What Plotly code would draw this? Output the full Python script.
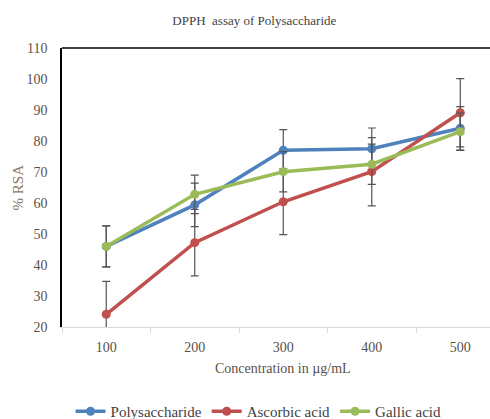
import plotly.graph_objects as go

# Concentrations (µg/mL) and % radical scavenging activity
concentrations = ["100", "200", "300", "400", "500"]

polysaccharide = [46.0, 59.4, 77.0, 77.5, 84.1]
polysaccharide_err = [6.6, 7.0, 6.7, 6.7, 7.0]

ascorbic_acid = [24.1, 47.2, 60.4, 70.1, 89.1]
ascorbic_acid_err = [10.6, 10.7, 10.6, 11.0, 11.0]

gallic_acid = [46.0, 62.8, 70.1, 72.5, 83.0]
gallic_acid_err = [6.6, 6.2, 6.5, 6.5, 6.0]

series = [
    ("Polysaccharide", polysaccharide, polysaccharide_err, "#4F81BD"),
    ("Ascorbic acid", ascorbic_acid, ascorbic_acid_err, "#C0504D"),
    ("Gallic acid", gallic_acid, gallic_acid_err, "#9BBB59"),
]

serif = "Times New Roman"
text_col = "#5b5148"

fig = go.Figure()
for name, vals, errs, col in series:
    fig.add_trace(go.Scatter(
        x=concentrations, y=vals, name=name, mode="lines+markers",
        line=dict(color=col, width=3.5),
        marker=dict(color=col, size=9),
        error_y=dict(type="data", array=errs, visible=True,
                     color="#555555", thickness=1.2, width=4),
        cliponaxis=True,
    ))

fig.update_layout(
    width=490, height=419,
    margin=dict(l=62, r=0, t=48, b=92, autoexpand=False),
    paper_bgcolor="white", plot_bgcolor="white",
    font=dict(family=serif, color=text_col, size=14),
    title=dict(text="DPPH  assay of Polysaccharide", xref="container", x=0.519,
               xanchor="center", yref="container", y=0.952, yanchor="middle",
               font=dict(family=serif, size=13, color="#3f3f3f")),
    showlegend=True,
    legend=dict(orientation="h", x=0.02, xanchor="left",
                yref="container", y=0.018, yanchor="middle",
                font=dict(family=serif, size=15, color="#3f3f3f"),
                itemwidth=30, tracegroupgap=0, bgcolor="rgba(0,0,0,0)"),
    xaxis=dict(
        type="category", range=[-0.5, 4.336], automargin=False,
        showgrid=False, zeroline=False,
        showline=True, linecolor="#d9d9d9", linewidth=1,
        ticks="outside", tickson="boundaries", ticklen=5, tickcolor="#d9d9d9",
        ticklabelstandoff=7,
        tickfont=dict(family=serif, size=14, color=text_col),
    ),
    yaxis=dict(
        range=[20, 110], dtick=10, tick0=20, automargin=False,
        showgrid=False, zeroline=False,
        showline=True, linecolor="black", linewidth=1.5,
        ticks="", ticklabelstandoff=10,
        tickfont=dict(family=serif, size=14, color=text_col),
    ),
)

# Plot-area top border
fig.add_shape(type="line", xref="paper", yref="paper", x0=0, x1=1, y0=1, y1=1,
              line=dict(color="black", width=1.5))

# Y axis title
fig.add_annotation(text="% RSA", xref="paper", x=-0.103, yref="paper", y=0.5,
                   xanchor="center", yanchor="middle", textangle=-90, showarrow=False,
                   font=dict(family=serif, size=15, color="#8a7a6a"))

# X axis title, centred under the middle concentration
fig.add_annotation(text="Concentration in µg/mL", xref="x", x=2, yref="paper", y=-0.15,
                   yanchor="middle", showarrow=False,
                   font=dict(family=serif, size=14, color=text_col))

fig.write_html("out.html")
